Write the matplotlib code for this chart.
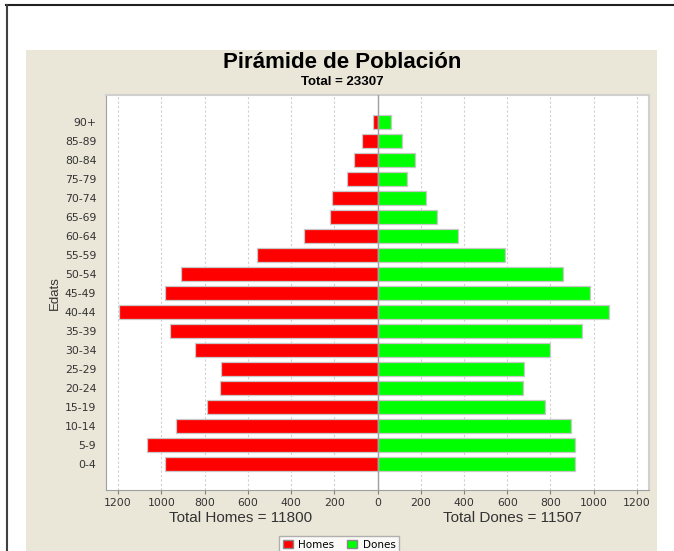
import matplotlib
matplotlib.use("Agg")
import matplotlib.pyplot as plt
from matplotlib.patches import Rectangle, Patch
from matplotlib.lines import Line2D
from matplotlib.ticker import FuncFormatter, FixedLocator

age_groups = ["0-4", "5-9", "10-14", "15-19", "20-24", "25-29", "30-34", "35-39",
              "40-44", "45-49", "50-54", "55-59", "60-64", "65-69", "70-74",
              "75-79", "80-84", "85-89", "90+"]
homes = [981, 1067, 930, 790, 727, 723, 843, 962, 1198, 981, 911, 556, 338, 222,
         210, 142, 107, 72, 21]
dones = [915, 915, 895, 773, 674, 680, 800, 946, 1072, 985, 860, 588, 374, 277,
         225, 137, 172, 115, 63]
x_ticks = [-1200, -1000, -800, -600, -400, -200, 0, 200, 400, 600, 800, 1000, 1200]
title = "Pirámide de Población"
subtitle = "Total = 23307"
total_homes = "Total Homes = 11800"
total_dones = "Total Dones = 11507"

W, H = 674, 551
fig = plt.figure(figsize=(W / 100, H / 100), dpi=100)
fig.patch.set_facecolor("white")

def fx(px):
    return px / W

def fy(py):
    return 1 - py / H

# beige panel
fig.add_artist(Rectangle((fx(26), 0), fx(657) - fx(26), fy(50), transform=fig.transFigure,
                         facecolor="#EAE6D8", edgecolor="none", zorder=0))
# black border top and left
fig.add_artist(Line2D([fx(6), 1], [fy(4.5), fy(4.5)], transform=fig.transFigure,
                      color="#202020", lw=1.5))
fig.add_artist(Line2D([fx(6.5), fx(6.5)], [0, fy(4.5)], transform=fig.transFigure,
                      color="#404040", lw=1.5))

ax = fig.add_axes([fx(106), fy(490), fx(649) - fx(106), fy(95) - fy(490)])
ax.set_facecolor("white")
y = list(range(len(age_groups)))
ax.barh(y, [-v for v in homes], height=0.74, color="#FF0000", edgecolor="#C8C8C8",
        linewidth=0.9, zorder=3)
ax.barh(y, dones, height=0.74, color="#00FF00", edgecolor="#C8C8C8",
        linewidth=0.9, zorder=3)
ax.axvline(0, color="#A0A0A0", lw=1, zorder=4)

ax.set_xlim(-1256, 1256)
ax.set_ylim(-1.37, 19.44)
ax.xaxis.set_major_locator(FixedLocator(x_ticks))
ax.xaxis.set_major_formatter(FuncFormatter(lambda v, p: f"{abs(int(v))}"))
ax.set_yticks(y)
ax.set_yticklabels(age_groups)
ax.grid(axis="x", color="#D0D0D0", linestyle=(0, (2, 2)), lw=0.8, zorder=1)
ax.tick_params(axis="x", labelsize=7.8, colors="#808080", labelcolor="#333333",
               length=3, pad=3)
ax.tick_params(axis="y", labelsize=7.8, colors="#808080", labelcolor="#333333",
               length=0, pad=7)
for lab in ax.get_xticklabels() + ax.get_yticklabels():
    lab.set_family("DejaVu Sans")
for s in ["left", "bottom"]:
    ax.spines[s].set_color("#A0A0A0")
for s in ["top", "right"]:
    ax.spines[s].set_color("#D0D0D0")
    ax.spines[s].set_linewidth(1.5)

fig.text(fx(342), fy(62), title, ha="center", va="center", fontsize=16,
         fontweight="bold", family="Liberation Sans", color="black")
fig.text(fx(342), fy(82), subtitle, ha="center", va="center", fontsize=9.5,
         fontweight="bold", family="Liberation Sans", color="black")
fig.text(fx(55), fy(293), "Edats", ha="center", va="center", rotation=90,
         fontsize=9.5, family="Liberation Sans", color="#333333")
fig.text(fx(241), fy(518), total_homes, ha="center", va="center", fontsize=11,
         family="Liberation Sans", color="#333333")
fig.text(fx(512), fy(518), total_dones, ha="center", va="center", fontsize=11,
         family="Liberation Sans", color="#333333")

handles = [Patch(facecolor="#FF0000", edgecolor="#888888", label="H o m e s"),
           Patch(facecolor="#00FF00", edgecolor="#888888", label="D o n e s")]
handles[0].set_label("Homes")
handles[1].set_label("Dones")
leg = fig.legend(handles=handles, loc="upper center", bbox_to_anchor=(fx(339), fy(536)),
                 ncol=2, frameon=True, fancybox=False, edgecolor="#A0A0A0",
                 prop={"family": "DejaVu Sans", "size": 7.5}, handlelength=1.0,
                 handleheight=0.9, handletextpad=0.5, columnspacing=1.2,
                 borderpad=0.35, borderaxespad=0)
leg.get_frame().set_linewidth(1.0)

fig.savefig("out.png", dpi=100, facecolor="white")
